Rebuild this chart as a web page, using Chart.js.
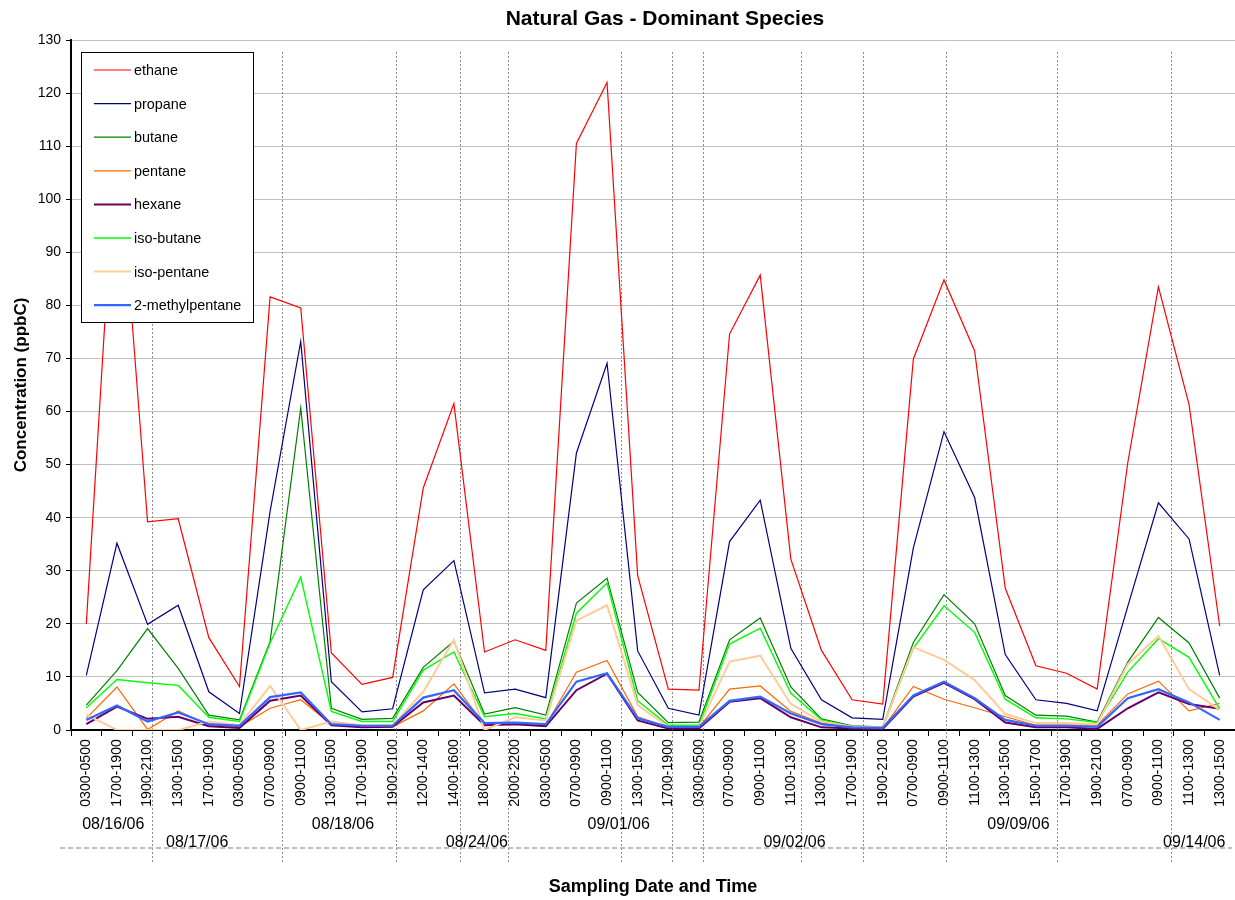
<!DOCTYPE html>
<html>
<head>
<meta charset="utf-8">
<script src="https://cdn.jsdelivr.net/npm/chart.js@4.4.0/dist/chart.umd.min.js"></script>
<style>
html, body { margin: 0; padding: 0; background: #fff; }
#wrap { width: 1235px; height: 900px; }
</style>
</head>
<body>
<div id="wrap"><canvas id="gasChart"></canvas></div>
<script>
var FONT = "'Liberation Sans', Arial, sans-serif";

// sampling windows (x categories)
var timeLabels = ['0300-0500','1700-1900','1900-2100','1300-1500','1700-1900','0300-0500','0700-0900','0900-1100',
    '1300-1500','1700-1900','1900-2100','1200-1400','1400-1600','1800-2000','2000-2200','0300-0500','0700-0900',
    '0900-1100','1300-1500','1700-1900','0300-0500','0700-0900','0900-1100','1100-1300','1300-1500','1700-1900',
    '1900-2100','0700-0900','0900-1100','1100-1300','1300-1500','1500-1700','1700-1900','1900-2100','0700-0900',
    '0900-1100','1100-1300','1300-1500'];

// concentrations (ppbC)
var ethane = [20, 114, 39.2, 39.8, 17.4, 8.2, 81.6, 79.5, 14.5, 8.6, 9.9, 45.6, 61.5, 14.7, 17.0, 15.0, 110.5, 122,
    29.1, 7.7, 7.5, 74.6, 85.7, 32.2, 15.0, 5.7, 4.9, 69.9, 84.8, 71.4, 26.7, 12.1, 10.7, 7.7, 50.4, 83.5, 61.3, 19.6];
var propane = [10.3, 35.2, 19.9, 23.5, 7.2, 3.1, 41.2, 73.2, 9.1, 3.4, 4.0, 26.4, 31.9, 7.0, 7.7, 6.1, 52.2, 69.1,
    14.9, 4.1, 2.8, 35.5, 43.3, 15.4, 5.7, 2.3, 2.0, 34.3, 56.2, 43.8, 14.2, 5.7, 5.0, 3.6, 23.3, 42.8, 36.0, 10.3];
var butane = [4.7, 11.2, 19.1, 11.6, 2.8, 1.9, 16.7, 60.7, 4.1, 2.0, 2.2, 11.8, 16.7, 3.0, 4.2, 2.8, 23.9, 28.6,
    7.1, 1.4, 1.5, 17.0, 21.1, 8.1, 2.1, 0.8, 0.6, 16.5, 25.5, 20.0, 6.5, 2.8, 2.6, 1.5, 12.8, 21.2, 16.4, 6.0];
var pentane = [2.2, 8.1, 0.1, 3.6, 0.9, 0.6, 4.1, 5.7, 1.1, 0.5, 0.6, 3.6, 8.7, 0.9, 1.3, 0.9, 10.9, 13.1,
    2.5, 0.5, 0.5, 7.7, 8.3, 3.5, 1.3, 0.4, 0.3, 8.2, 5.8, 4.2, 2.5, 0.9, 0.9, 0.9, 6.8, 9.2, 3.6, 5.0];
var hexane = [1.1, 4.4, 2.1, 2.5, 0.7, 0.4, 5.5, 6.5, 0.9, 0.5, 0.6, 5.2, 6.5, 0.9, 1.1, 0.7, 7.5, 10.6,
    1.8, 0.3, 0.3, 5.3, 6.0, 2.4, 0.5, 0.3, 0.2, 6.3, 8.9, 5.8, 1.4, 0.5, 0.5, 0.2, 4.1, 7.1, 4.9, 4.0];
var isoButane = [4.2, 9.5, 8.9, 8.4, 2.4, 1.6, 16.4, 28.8, 3.5, 1.6, 1.6, 11.3, 14.7, 2.5, 3.1, 2.1, 22.0, 27.7,
    5.5, 0.9, 0.9, 16.2, 19.2, 6.9, 1.9, 0.6, 0.5, 15.4, 23.4, 18.4, 5.8, 2.3, 2.1, 1.4, 10.9, 17.2, 13.7, 4.0];
var isoPentane = [2.9, 0, 0, 0, 1.6, 0.9, 8.3, 0, 1.6, 0.9, 0.9, 7.2, 17.0, 0, 2.4, 1.8, 20.6, 23.5,
    4.7, 0.6, 0.6, 12.9, 14.0, 4.9, 1.6, 0.6, 0.5, 15.6, 13.2, 9.4, 3.0, 1.3, 1.3, 1.1, 12.4, 17.7, 7.7, 3.8];
var methylPentane = [1.9, 4.6, 1.6, 3.3, 1.1, 0.8, 6.2, 7.1, 1.1, 0.8, 0.8, 6.1, 7.5, 1.3, 1.4, 1.1, 9.1, 10.7,
    2.2, 0.6, 0.6, 5.5, 6.3, 3.1, 1.1, 0.5, 0.4, 6.5, 9.1, 6.0, 1.9, 0.8, 0.8, 0.6, 6.0, 7.7, 5.2, 1.9];

// sampling dates written under the time labels (position = category index, row 0 or 1)
var dateLabels = ['08/16/06','08/17/06','08/18/06','08/24/06','09/01/06','09/02/06','09/09/06','09/14/06'];
var datePos = [0.88, 3.62, 8.38, 12.75, 17.38, 23.12, 30.43, 36.17];
var dateRow = [0, 1, 0, 1, 0, 1, 0, 1];
// dotted separators between the date groups (category index)
var separatorPos = [2.15, 6.39, 10.11, 12.2, 13.76, 17.45, 19.11, 20.12, 23.32, 25.34, 28.08, 31.7, 35.42];

function makeSet(label, data, color, width, order)
{
    return {
        label: label,
        data: data,
        borderColor: color,
        backgroundColor: color,
        borderWidth: width,
        pointRadius: 0,
        pointHoverRadius: 0,
        tension: 0,
        fill: false,
        order: order
    };
}

// titles, date rows, separators and the boxed legend
var decorPlugin = {
    id: 'decor',
    beforeDatasetsDraw: function(chart) {
        var ctx = chart.ctx;
        var xs = chart.scales.x;
        var area = chart.chartArea;
        ctx.save();
        ctx.strokeStyle = '#8c8c8c';
        ctx.lineWidth = 1;
        ctx.setLineDash([2, 2]);
        separatorPos.forEach(function(p) {
            var x = Math.round(xs.getPixelForValue(p)) + 0.5;
            ctx.beginPath();
            ctx.moveTo(x, area.top + 12);
            ctx.lineTo(x, 862);
            ctx.stroke();
        });
        ctx.restore();
    },
    afterDraw: function(chart) {
        var ctx = chart.ctx;
        var xs = chart.scales.x;
        var area = chart.chartArea;
        ctx.save();

        // chart title
        ctx.fillStyle = '#000';
        ctx.font = 'bold 21px ' + FONT;
        ctx.textAlign = 'center';
        ctx.textBaseline = 'middle';
        ctx.fillText('Natural Gas - Dominant Species', 665, 19);

        // dashed line under the dates
        ctx.strokeStyle = '#a8a8a8';
        ctx.lineWidth = 1.5;
        ctx.setLineDash([5, 3]);
        ctx.beginPath();
        ctx.moveTo(60, 848);
        ctx.lineTo(1232, 848);
        ctx.stroke();
        ctx.setLineDash([]);

        // date labels
        ctx.font = '16px ' + FONT;
        ctx.fillStyle = '#000';
        for (var i = 0; i < dateLabels.length; i++) {
            var x = xs.getPixelForValue(datePos[i]);
            var y = dateRow[i] == 0 ? 825 : 843;
            ctx.fillText(dateLabels[i], x, y);
        }

        // legend box
        var lx = area.left + 10, ly = area.top + 12, lw = 172, lh = 270;
        ctx.fillStyle = '#fff';
        ctx.fillRect(lx, ly, lw, lh);
        ctx.strokeStyle = '#000';
        ctx.lineWidth = 1;
        ctx.strokeRect(lx + 0.5, ly + 0.5, lw, lh);
        ctx.font = '14.4px ' + FONT;
        ctx.textAlign = 'left';
        chart.data.datasets.forEach(function(ds, k) {
            var yy = ly + 18 + k * 33.6;
            ctx.strokeStyle = ds.borderColor;
            ctx.lineWidth = ds.borderWidth;
            ctx.beginPath();
            ctx.moveTo(lx + 13, yy);
            ctx.lineTo(lx + 50, yy);
            ctx.stroke();
            ctx.fillStyle = '#000';
            ctx.fillText(ds.label, lx + 53, yy + 1);
        });
        ctx.restore();
    }
};

var ctx = document.getElementById('gasChart').getContext('2d');
var gasChart = new Chart(ctx, {
    type: 'line',
    data: {
        labels: timeLabels,
        datasets: [
            makeSet('ethane', ethane, '#ff0000', 1.2, 8),
            makeSet('propane', propane, '#000080', 1.2, 7),
            makeSet('butane', butane, '#008000', 1.2, 6),
            makeSet('pentane', pentane, '#ff6600', 1.2, 5),
            makeSet('hexane', hexane, '#660066', 2, 4),
            makeSet('iso-butane', isoButane, '#00ff00', 1.4, 3),
            makeSet('iso-pentane', isoPentane, '#ffcc99', 2, 2),
            makeSet('2-methylpentane', methylPentane, '#3366ff', 2.2, 1)
        ]
    },
    options: {
        responsive: true,
        maintainAspectRatio: false,
        animation: false,
        devicePixelRatio: 1,
        layout: { padding: { top: 40, left: 0, right: 0, bottom: 0 } },
        plugins: {
            legend: { display: false },
            title: { display: false },
            tooltip: { enabled: false }
        },
        scales: {
            x: {
                offset: true,
                ticks: {
                    autoSkip: false, minRotation: 90, maxRotation: 90,
                    color: '#000', padding: 3,
                    font: { family: FONT, size: 14.2 }
                },
                grid: { offset: true, drawOnChartArea: false, tickLength: 6, color: '#000' },
                border: { color: '#000', width: 2 },
                title: {
                    display: true, text: 'Sampling Date and Time', color: '#000',
                    font: { family: FONT, size: 18, weight: 'bold' },
                    padding: { top: 0, bottom: 2 }
                },
                afterFit: function(scale) {
                    scale.height = 170;
                    scale.paddingRight = 0;
                    scale.paddingLeft = 0;
                }
            },
            y: {
                min: 0, max: 130,
                ticks: {
                    stepSize: 10, color: '#000', padding: 5,
                    font: { family: FONT, size: 14 }
                },
                grid: { color: '#c0c0c0', lineWidth: 1, tickLength: 5, tickColor: '#000' },
                border: { color: '#000', width: 2 },
                title: {
                    display: true, text: 'Concentration (ppbC)', color: '#000',
                    font: { family: FONT, size: 17, weight: 'bold' },
                    padding: { top: 11, bottom: 0 }
                },
                afterFit: function(scale) { scale.width = 71; }
            }
        }
    },
    plugins: [decorPlugin]
});
</script>
</body>
</html>
